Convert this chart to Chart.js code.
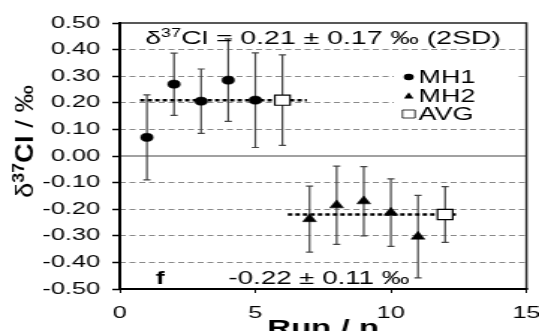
<!DOCTYPE html>
<html>
<head>
<meta charset="utf-8">
<script src="https://cdn.jsdelivr.net/npm/chart.js@4.4.0/dist/chart.umd.min.js"></script>
<style>
    html, body { margin: 0; padding: 0; background: #fff; overflow: hidden; }
    /* the reference figure is stretched sideways, so the whole chart is too */
    #wrap { width: 360px; height: 331px; transform: scaleX(1.4972); transform-origin: 0 0; }
</style>
</head>
<body>
<div id="wrap"><canvas id="myChart"></canvas></div>
<script>

// runs of the first material
var runsMH1 = [1, 2, 3, 4, 5];
var valuesMH1 = [0.07, 0.27, 0.206, 0.285, 0.21];
var errorsMH1 = [0.16, 0.117, 0.121, 0.155, 0.178];

// runs of the second material
var runsMH2 = [7, 8, 9, 10, 11];
var valuesMH2 = [-0.237, -0.185, -0.17, -0.213, -0.303];
var errorsMH2 = [0.124, 0.147, 0.13, 0.127, 0.155];

// averages
var runsAVG = [6, 12];
var valuesAVG = [0.21, -0.22];
var errorsAVG = [0.17, 0.105];

// x range of the dotted mean lines
var meanLineMH1 = [0.75, 6.9];
var meanLineMH2 = [6.2, 12.4];

var xAxisTicks = [0, 5, 10, 15];
var yAxisTicks = [-0.5, -0.4, -0.3, -0.2, -0.1, 0, 0.1, 0.2, 0.3, 0.4, 0.5];

var topNote = ['δ', '37', 'Cl = 0.21 ± 0.17 ‰ (2SD)'];
var bottomNote = '-0.22 ± 0.11 ‰';
var panelLetter = 'f';
var xTitle = 'Run / n';
var yTitle = ['δ', '37', 'Cl', ' / ‰'];

var FONT = "'Liberation Sans', Arial, sans-serif";
Chart.defaults.font.family = FONT;
Chart.defaults.color = '#000';

var toPoints = function (xs, ys) {
    return xs.map(function (x, i) { return {x: x, y: ys[i]}; });
};

var isEdge = function (v) {
    return Math.abs(v) < 1e-9 || Math.abs(Math.abs(v) - 0.5) < 1e-9;
};

// draws several text pieces one after the other (for superscripts)
function drawParts(ctx, parts, x, y, align) {
    var total = 0;
    parts.forEach(function (p) {
        ctx.font = p.font;
        p.w = ctx.measureText(p.text).width;
        total += p.w;
    });
    var cx = align === 'center' ? x - total / 2 : x;
    parts.forEach(function (p) {
        ctx.font = p.font;
        ctx.fillText(p.text, cx, y + (p.dy || 0));
        cx += p.w;
    });
    return total;
}

var errorBarPlugin = {
    id: 'errorBars',
    beforeDatasetsDraw: function (chart) {
        var ctx = chart.ctx;
        var xs = chart.scales.x, ys = chart.scales.y;
        var area = chart.chartArea;
        ctx.save();

        // white box behind the legend
        ctx.fillStyle = '#fff';
        ctx.fillRect(263, 66, 82, 24);
        ctx.fillRect(263, 90, area.right - 263, 34);

        // zero line
        ctx.strokeStyle = '#444';
        ctx.lineWidth = 1.2;
        ctx.beginPath();
        ctx.moveTo(area.left, ys.getPixelForValue(0));
        ctx.lineTo(area.right, ys.getPixelForValue(0));
        ctx.stroke();

        // frame
        ctx.strokeStyle = '#222';
        ctx.lineWidth = 1.5;
        ctx.beginPath();
        ctx.moveTo(area.left, area.top);
        ctx.lineTo(area.right, area.top);
        ctx.lineTo(area.right, area.bottom);
        ctx.stroke();
        ctx.strokeStyle = '#000';
        ctx.lineWidth = 2;
        ctx.beginPath();
        ctx.moveTo(area.left, area.top - 1);
        ctx.lineTo(area.left, area.bottom);
        ctx.lineTo(area.right + 1, area.bottom);
        ctx.stroke();

        // error bars
        var groups = [[runsMH1, valuesMH1, errorsMH1], [runsMH2, valuesMH2, errorsMH2], [runsAVG, valuesAVG, errorsAVG]];
        ctx.strokeStyle = '#444';
        ctx.lineWidth = 1.2;
        groups.forEach(function (g) {
            for (var i = 0; i < g[0].length; i++) {
                var px = xs.getPixelForValue(g[0][i]);
                var top = ys.getPixelForValue(g[1][i] + g[2][i]);
                var bot = ys.getPixelForValue(g[1][i] - g[2][i]);
                ctx.beginPath();
                ctx.moveTo(px, top); ctx.lineTo(px, bot);
                ctx.moveTo(px - 2.4, top); ctx.lineTo(px + 2.4, top);
                ctx.moveTo(px - 2.4, bot); ctx.lineTo(px + 2.4, bot);
                ctx.stroke();
            }
        });
        ctx.restore();
    }
};

var textPlugin = {
    id: 'texts',
    afterDraw: function (chart) {
        var ctx = chart.ctx;
        var area = chart.chartArea;
        var midX = (area.left + area.right) / 2;
        ctx.save();
        ctx.fillStyle = '#000';
        ctx.textAlign = 'left';
        ctx.textBaseline = 'alphabetic';

        drawParts(ctx, [
            {text: topNote[0], font: '19px ' + FONT},
            {text: topNote[1], font: '12px ' + FONT, dy: -7},
            {text: topNote[2], font: '19px ' + FONT}
        ], midX, 44, 'center');

        drawParts(ctx, [{text: bottomNote, font: '18.5px ' + FONT}], 213, 283.5, 'center');
        drawParts(ctx, [{text: panelLetter, font: 'bold 18px ' + FONT}], 104, 283.5, 'left');
        drawParts(ctx, [{text: xTitle, font: 'bold 22px ' + FONT}], midX, 335, 'center');

        // y title, rotated and stretched along its length like the reference
        var parts = [
            {text: yTitle[0], font: '17px ' + FONT},
            {text: yTitle[1], font: 'bold 11px ' + FONT, dy: -6},
            {text: yTitle[2], font: 'bold 17px ' + FONT},
            {text: yTitle[3], font: '17px ' + FONT}
        ];
        var len = 0;
        parts.forEach(function (p) { ctx.font = p.font; len += ctx.measureText(p.text).width; });
        ctx.translate(22, 141.5);
        ctx.rotate(-Math.PI / 2);
        ctx.scale(113 / len, 1);
        drawParts(ctx, parts, 0, 0, 'center');
        ctx.setTransform(1, 0, 0, 1, 0, 0);

        // legend
        var rows = [77, 95.5, 114];
        var mx = 273;
        chart.data.datasets.slice(0, 3).forEach(function (ds, i) {
            var cy = rows[i];
            ctx.beginPath();
            if (ds.pointStyle === 'circle') {
                ctx.arc(mx, cy, 3.3, 0, Math.PI * 2);
                ctx.fillStyle = '#000';
                ctx.fill();
            } else if (ds.pointStyle === 'triangle') {
                ctx.moveTo(mx, cy - 3.3);
                ctx.lineTo(mx + 3.2, cy + 3);
                ctx.lineTo(mx - 3.2, cy + 3);
                ctx.closePath();
                ctx.fillStyle = '#000';
                ctx.fill();
            } else {
                ctx.rect(mx - 4.2, cy - 4, 8.4, 8);
                ctx.fillStyle = '#fff';
                ctx.fill();
                ctx.strokeStyle = '#000';
                ctx.lineWidth = 0.8;
                ctx.stroke();
            }
            ctx.fillStyle = '#000';
            ctx.font = '18px ' + FONT;
            ctx.fillText(ds.label, 279.5, cy + 6.3);
        });
        ctx.restore();
    }
};

var ctx = document.getElementById('myChart');
var myChart = new Chart(ctx, {
    type: 'scatter',
    data: {
        datasets: [
            {
                label: 'MH1',
                data: toPoints(runsMH1, valuesMH1),
                pointStyle: 'circle',
                pointRadius: 4.1,
                backgroundColor: '#000',
                borderColor: '#000',
                borderWidth: 0.5,
                order: 0
            },
            {
                label: 'MH2',
                data: toPoints(runsMH2, valuesMH2),
                pointStyle: 'triangle',
                pointRadius: 5.3,
                backgroundColor: '#000',
                borderColor: '#000',
                borderWidth: 0.5,
                order: 0
            },
            {
                label: 'AVG',
                data: toPoints(runsAVG, valuesAVG),
                pointStyle: 'rect',
                pointRadius: 7.2,
                backgroundColor: '#fff',
                borderColor: '#000',
                borderWidth: 1.2,
                order: 0
            },
            {
                type: 'line',
                label: 'mean MH1',
                data: toPoints(meanLineMH1, [valuesAVG[0], valuesAVG[0]]),
                showLine: true,
                borderColor: '#000',
                borderWidth: 2.5,
                borderDash: [3, 2],
                pointRadius: 0,
                order: 5
            },
            {
                type: 'line',
                label: 'mean MH2',
                data: toPoints(meanLineMH2, [valuesAVG[1], valuesAVG[1]]),
                showLine: true,
                borderColor: '#000',
                borderWidth: 2.5,
                borderDash: [3, 2],
                pointRadius: 0,
                order: 5
            }
        ]
    },
    options: {
        responsive: true,
        maintainAspectRatio: false,
        animation: false,
        layout: { padding: { top: 23, right: 7.35, left: 0, bottom: 0 } },
        plugins: {
            legend: { display: false },
            tooltip: { enabled: false }
        },
        scales: {
            x: {
                type: 'linear',
                min: 0,
                max: 15,
                afterBuildTicks: function (scale) {
                    scale.ticks = xAxisTicks.map(function (v) { return {value: v}; });
                },
                afterFit: function (scale) {
                    scale.height = 42;
                    scale.paddingLeft = 0;
                    scale.paddingRight = 0;
                },
                border: { display: false },
                grid: {
                    drawOnChartArea: false,
                    drawTicks: true,
                    tickLength: 4,
                    tickColor: '#000',
                    tickWidth: 1
                },
                ticks: {
                    font: { size: 17 },
                    padding: 10,
                    maxRotation: 0,
                    callback: function (v) { return String(v); }
                }
            },
            y: {
                type: 'linear',
                min: -0.5,
                max: 0.5,
                afterBuildTicks: function (scale) {
                    scale.ticks = yAxisTicks.map(function (v) { return {value: v}; });
                },
                afterFit: function (scale) {
                    scale.width = 80;
                    scale.paddingTop = 0;
                    scale.paddingBottom = 0;
                },
                border: { display: false, dash: [4, 2.5] },
                grid: {
                    color: function (c) {
                        if (!c.tick) return '#8a8a8a';
                        return isEdge(c.tick.value) ? 'rgba(0,0,0,0)' : '#8a8a8a';
                    },
                    lineWidth: 1,
                    tickLength: 5,
                    tickColor: '#000',
                    tickWidth: 1.5,
                    tickBorderDash: []
                },
                ticks: {
                    font: { size: 17 },
                    padding: 8,
                    callback: function (v) { return Number(v).toFixed(2); }
                }
            }
        }
    },
    plugins: [errorBarPlugin, textPlugin]
});
</script>
</body>
</html>
